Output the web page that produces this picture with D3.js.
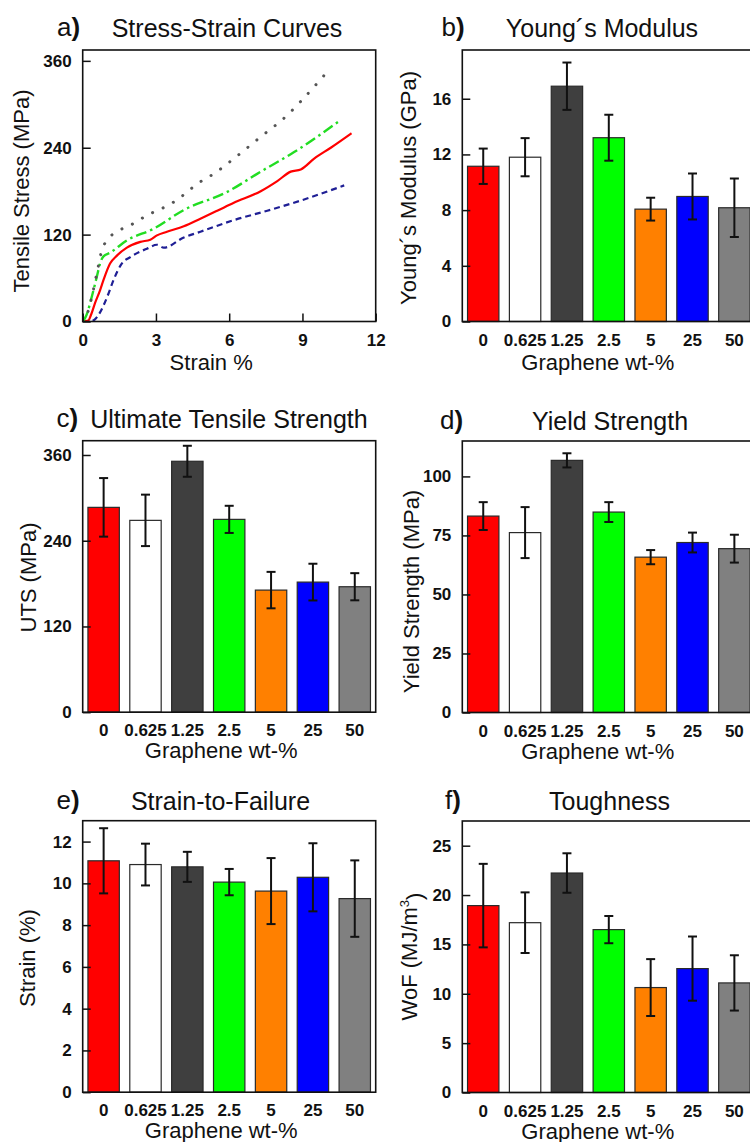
<!DOCTYPE html>
<html>
<head>
<meta charset="utf-8">
<script src="https://cdn.jsdelivr.net/npm/d3@7"></script>
<style>
  body { margin: 0; background: #ffffff; }
  svg { display: block; }
  text { font-family: "Liberation Sans", Arial, sans-serif; fill: #111; }
</style>
</head>
<body>
<svg id="chart" width="750" height="1142"></svg>
<script>
// ---- data ----------------------------------------------------------------
const categories = ["0", "0.625", "1.25", "2.5", "5", "25", "50"];
const barColors  = ["#ff0000", "#ffffff", "#3f3f3f", "#00ff00", "#ff8000", "#0000ff", "#808080"];

const modulus      = [11.15, 11.8, 16.9, 13.2, 8.07, 8.98, 8.17];
const modulusErr   = [1.27, 1.37, 1.7, 1.65, 0.82, 1.65, 2.1];
const uts          = [286.7, 268.5, 351.2, 269.9, 170.9, 182.1, 175.6];
const utsErr       = [41, 36, 21.7, 19, 25.5, 25.7, 19];
const yieldStr     = [83.2, 76.2, 106.8, 84.9, 65.8, 72.0, 69.4];
const yieldErr     = [5.9, 10.8, 3.0, 4.2, 3.0, 4.2, 5.9];
const strainFail   = [11.08, 10.9, 10.79, 10.06, 9.63, 10.29, 9.27];
const strainErr    = [1.56, 1.0, 0.72, 0.63, 1.58, 1.63, 1.83];
const toughness    = [18.93, 17.2, 22.23, 16.5, 10.63, 12.55, 11.1];
const toughErr     = [4.23, 3.07, 2.0, 1.38, 2.88, 3.25, 2.8];

// stress-strain curves: [strain %, stress MPa]
const curve0 = [[0,0],[0.23,1.4],[0.35,10],[0.5,25],[0.71,43],[0.85,57],[1.12,80],[1.4,91],[1.81,102],
  [2.36,110],[2.77,113],[3.04,119],[3.45,124],[4.14,131.5],[4.82,142],[5.51,153],[6.19,164],
  [7.29,180],[7.97,194],[8.52,207],[8.93,210],[9.48,225],[10.16,240],[11.01,260]];
const curve125 = [[0,0],[0.2,12],[0.4,38],[0.6,70],[0.78,98],[0.99,112],[1.4,124],[1.95,133],
  [2.77,149],[3.18,155],[3.73,165],[4.82,193],[5.37,204],[6.19,225],[7.29,255],[8.38,285],
  [8.93,304],[9.89,340]];
const curve25 = [[0,0],[0.1,5],[0.2,13],[0.3,25],[0.44,43],[0.6,65],[0.71,80],[0.85,90],[1.12,95],
  [1.81,112],[2.9,128],[4.14,154],[5.92,179],[7.29,207],[8.66,234],[10.51,277]];
const curveBlue = [[0,0],[0.35,0.5],[0.5,3],[0.7,12],[0.85,22],[1.05,38],[1.26,57],[1.6,80],[1.95,89],
  [2.63,100.6],[3.04,106],[3.32,102],[4.14,116],[4.82,124],[6.19,140],[7.56,153],[8.93,167],[10.71,188]];

const strainTicks = [0, 3, 6, 9, 12];
const stressTicks = [0, 120, 240, 360];
const modulusTicks = [0, 4, 8, 12, 16];
const utsTicks = [0, 120, 240, 360];
const yieldTicks = [0, 25, 50, 75, 100];
const strainFailTicks = [0, 2, 4, 6, 8, 10, 12];
const toughTicks = [0, 5, 10, 15, 20, 25];

// ---- layout --------------------------------------------------------------
const W = 293, H = 271.5;
const svg = d3.select("#chart");
const tickFont = "bold 17px 'Liberation Sans', Arial, sans-serif";

function frame(g) {
  g.append("rect").attr("x", 0).attr("y", 0).attr("width", W).attr("height", H)
    .attr("fill", "none").attr("stroke", "#111").attr("stroke-width", 1.6);
}

function headings(p) {
  const t = svg.append("text").attr("x", p.labelX).attr("y", p.titleY - 1)
    .style("font-size", "26px");
  t.append("tspan").text(p.letter);
  t.append("tspan").style("font-weight", "bold").text(")");
  svg.append("text").attr("x", p.titleX).attr("y", p.titleY)
    .attr("text-anchor", "middle").style("font-size", "25px").text(p.title);
  const yt = svg.append("text")
    .attr("transform", `translate(${p.yTitleX},${p.yTitleY}) rotate(-90)`)
    .attr("text-anchor", "middle").style("font-size", "22px");
  yt.append("tspan").text(p.yTitle);
  if (p.yTitleSup) {
    yt.append("tspan").attr("dy", "-0.6em").style("font-size", "13px").text(p.yTitleSup);
    yt.append("tspan").attr("dy", "0.6em").text(")");
  }
  svg.append("text").attr("x", p.x + W / 2 + (p.xTitleDx || 0)).attr("y", p.y + H + (p.xTitleGap || 48))
    .attr("text-anchor", "middle").style("font-size", "22px").text(p.xTitle);
}

function styleYAxis(axisG) {
  axisG.select(".domain").remove();
  axisG.selectAll(".tick line").attr("stroke", "#111").attr("stroke-width", 1.5);
  axisG.selectAll(".tick text").style("font", tickFont).attr("fill", "#111");
}

function barPanel(p, values, errs, yMax, ticks) {
  const g = svg.append("g").attr("transform", `translate(${p.x},${p.y})`);
  const x = d3.scaleBand().domain(categories).range([0, W]).paddingInner(0.25).paddingOuter(0.125);
  const y = d3.scaleLinear().domain([0, yMax]).range([H, 0]);

  g.selectAll("rect.bar").data(categories).join("rect")
    .attr("class", "bar")
    .attr("x", d => x(d)).attr("width", x.bandwidth())
    .attr("y", (d, i) => y(values[i])).attr("height", (d, i) => H - y(values[i]))
    .attr("fill", (d, i) => barColors[i]).attr("stroke", "#2a2a2a").attr("stroke-width", 1.2);

  const eb = g.selectAll("g.err").data(categories).join("g").attr("class", "err");
  eb.append("line")
    .attr("x1", d => x(d) + x.bandwidth() / 2).attr("x2", d => x(d) + x.bandwidth() / 2)
    .attr("y1", (d, i) => y(values[i] + errs[i])).attr("y2", (d, i) => y(values[i] - errs[i]));
  eb.append("line")
    .attr("x1", d => x(d) + x.bandwidth() / 2 - 4.5).attr("x2", d => x(d) + x.bandwidth() / 2 + 4.5)
    .attr("y1", (d, i) => y(values[i] + errs[i])).attr("y2", (d, i) => y(values[i] + errs[i]));
  eb.append("line")
    .attr("x1", d => x(d) + x.bandwidth() / 2 - 4.5).attr("x2", d => x(d) + x.bandwidth() / 2 + 4.5)
    .attr("y1", (d, i) => y(values[i] - errs[i])).attr("y2", (d, i) => y(values[i] - errs[i]));
  eb.selectAll("line").attr("stroke", "#111").attr("stroke-width", 2);

  const ya = g.append("g").call(d3.axisLeft(y).tickValues(ticks).tickSizeInner(-8).tickSizeOuter(0).tickPadding(11));
  styleYAxis(ya);
  const xa = g.append("g").attr("transform", `translate(0,${H})`)
    .call(d3.axisBottom(x).tickSize(0).tickPadding(12));
  xa.select(".domain").remove();
  xa.selectAll(".tick text").style("font", tickFont).attr("fill", "#111");

  frame(g);
  headings(p);
}

// ---- panel a: stress-strain curves ---------------------------------------
const pa = { x: 82.7, y: 50, letter: "a", labelX: 57, titleX: 227, titleY: 37,
  title: "Stress-Strain Curves", yTitle: "Tensile Stress (MPa)", yTitleX: 29, yTitleY: 191,
  xTitle: "Strain %", xTitleDx: -18 };
{
  const g = svg.append("g").attr("transform", `translate(${pa.x},${pa.y})`);
  const x = d3.scaleLinear().domain([0, 12]).range([0, W]);
  const y = d3.scaleLinear().domain([0, 375]).range([H, 0]);
  g.append("clipPath").attr("id", "clipA").append("rect").attr("width", W).attr("height", H);
  const line = d3.line().x(d => x(d[0])).y(d => y(d[1])).curve(d3.curveMonotoneX);
  const cg = g.append("g").attr("clip-path", "url(#clipA)");
  const curves = [
    { data: curveBlue, color: "#1f1f95", dash: "6,4", w: 2.2, cap: "butt" },
    { data: curve0,    color: "#ff0000", dash: null,  w: 2.2, cap: "butt" },
    { data: curve25,   color: "#22dd22", dash: "11,4,2.5,4", w: 2.4, cap: "butt" },
    { data: curve125,  color: "#555555", dash: "0.1,11.5", w: 3, cap: "round" }
  ];
  curves.forEach(c => {
    cg.append("path").datum(c.data).attr("d", line).attr("fill", "none")
      .attr("stroke", c.color).attr("stroke-width", c.w)
      .attr("stroke-dasharray", c.dash).attr("stroke-linecap", c.cap);
  });
  const ya = g.append("g").call(d3.axisLeft(y).tickValues(stressTicks).tickSizeInner(-8).tickSizeOuter(0).tickPadding(11));
  styleYAxis(ya);
  const xa = g.append("g").attr("transform", `translate(0,${H})`)
    .call(d3.axisBottom(x).tickValues(strainTicks).tickSizeInner(-8).tickSizeOuter(0).tickPadding(12));
  xa.select(".domain").remove();
  xa.selectAll(".tick line").attr("stroke", "#111").attr("stroke-width", 1.5);
  xa.selectAll(".tick text").style("font", tickFont).attr("fill", "#111");
  frame(g);
  headings(pa);
}

// ---- bar panels ----------------------------------------------------------
barPanel({ x: 462.3, y: 50, letter: "b", labelX: 441.5, titleX: 602, titleY: 37,
  title: "Young\u00b4s Modulus", yTitle: "Young\u00b4s Modulus (GPa)", yTitleX: 416, yTitleY: 188,
  xTitle: "Graphene wt-%", xTitleDx: -11 }, modulus, modulusErr, 19.5, modulusTicks);

barPanel({ x: 82.7, y: 440.7, letter: "c", labelX: 56.5, titleX: 229, titleY: 428,
  title: "Ultimate Tensile Strength", yTitle: "UTS (MPa)", yTitleX: 36, yTitleY: 577.5,
  xTitle: "Graphene wt-%", xTitleDx: -8, xTitleGap: 46 }, uts, utsErr, 380, utsTicks);

barPanel({ x: 462.3, y: 441, letter: "d", labelX: 440, titleX: 610, titleY: 430,
  title: "Yield Strength", yTitle: "Yield Strength (MPa)", yTitleX: 419, yTitleY: 591.5,
  xTitle: "Graphene wt-%", xTitleDx: -11, xTitleGap: 46 }, yieldStr, yieldErr, 115, yieldTicks);

barPanel({ x: 82.7, y: 820.7, letter: "e", labelX: 56.5, titleX: 220.5, titleY: 810,
  title: "Strain-to-Failure", yTitle: "Strain (%)", yTitleX: 35, yTitleY: 958,
  xTitle: "Graphene wt-%", xTitleDx: -8, xTitleGap: 46 }, strainFail, strainErr, 13, strainFailTicks);

barPanel({ x: 462.3, y: 821, letter: "f", labelX: 445, titleX: 609.5, titleY: 810,
  title: "Toughness", yTitle: "WoF (MJ/m", yTitleSup: "3", yTitleX: 417, yTitleY: 956.5,
  xTitle: "Graphene wt-%", xTitleDx: -11, xTitleGap: 46 }, toughness, toughErr, 27.5, toughTicks);
</script>
</body>
</html>
